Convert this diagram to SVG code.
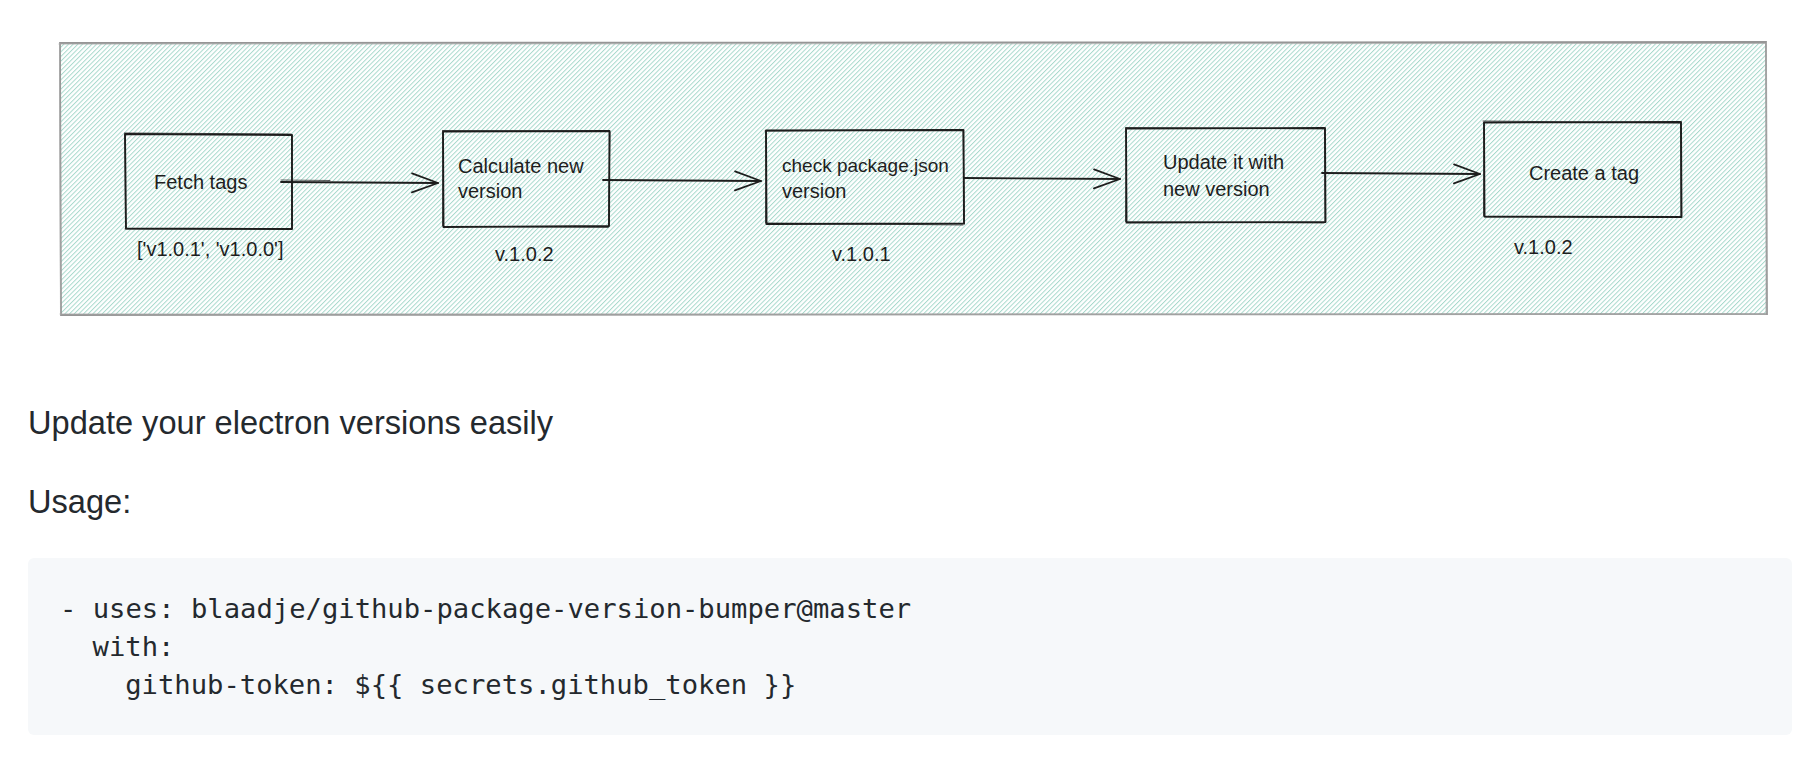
<svg xmlns="http://www.w3.org/2000/svg" width="1820" height="766" viewBox="0 0 1820 766">
<style>
.hand{font-family:"Liberation Sans","DejaVu Sans",sans-serif;font-size:20px;fill:#1e1e1e}
.sm{font-size:19px}
.box{fill:none;stroke:#1e1e1e;stroke-width:1.9;stroke-linejoin:round;stroke-linecap:round}
.box2{fill:none;stroke:#1e1e1e;stroke-width:1;stroke-linecap:round;opacity:0.75}
.cont{fill:none;stroke:#969696;stroke-width:1.8;stroke-linecap:round}
.cont2{fill:none;stroke:#a8a8a8;stroke-width:1;stroke-linecap:round;opacity:0.8}
.conn{fill:none;stroke:#1e1e1e;stroke-width:1.8;stroke-linecap:round}
.conn2{fill:none;stroke:#1e1e1e;stroke-width:1;stroke-linecap:round;opacity:0.7}
.body{font-family:"Liberation Sans","Helvetica",Arial,sans-serif;font-size:32.6px;fill:#24292e}
.code{font-family:"DejaVu Sans Mono","Liberation Mono",monospace;font-size:27.2px;fill:#24292e}
</style>
<defs>
<pattern id="hatch" width="3.3" height="3.3" patternUnits="userSpaceOnUse" patternTransform="rotate(45)">
<line x1="0.5" y1="0" x2="0.5" y2="3.3" stroke="#a8d9cc" stroke-width="1"/>
</pattern>
<marker id="arrow" markerUnits="userSpaceOnUse" viewBox="-30 -12 32 24" refX="0" refY="0" markerWidth="32" markerHeight="24" orient="auto">
<path d="M-26,-9.5 L0,0 L-26,9.5" fill="none" stroke="#1e1e1e" stroke-width="1.8" stroke-linecap="round" stroke-linejoin="round"/>
</marker>
</defs>
<rect width="1820" height="766" fill="#ffffff"/>

<g id="container">
<rect x="60" y="43" width="1706" height="271" fill="url(#hatch)"/>
<path class="cont" d="M60,43 L1766,42 L1767,314 L61,315 Z"/>
<path class="cont2" d="M59,44 L1765,43.5 M1766.5,42 L1766,313 M1766,314.5 L60,314 M60.5,315 L59.5,43"/>
</g>

<g id="connectors">
<path class="conn" d="M281,182 L438,183" marker-end="url(#arrow)"/>
<path class="conn2" d="M281,180 L330,180.5"/>
<path class="conn" d="M603,180 L761,181" marker-end="url(#arrow)"/>
<path class="conn" d="M964,178 L1120,179" marker-end="url(#arrow)"/>
<path class="conn" d="M1322,173 L1480,174" marker-end="url(#arrow)"/>
</g>

<g id="node-fetch">
<path class="box" d="M125,134 L292,135 L292,229 L126,228.5 Z"/>
<path class="box2" d="M124.5,133 L291,134 M291.5,135 L292.5,228 M291,229.5 L125,229 M125.5,228 L125,135"/>
<text class="hand" x="154" y="189">Fetch tags</text>
<text class="hand" x="137" y="256">['v1.0.1', 'v1.0.0']</text>
</g>

<g id="node-calc">
<path class="box" d="M443,131.5 L609.5,131 L609,226 L443.5,227 Z"/>
<path class="box2" d="M442.5,130.5 L608.5,131.5 M610,132 L608.5,227 M608,227.5 L444,226.5 M442.5,226 L443,132"/>
<text class="hand" x="458" y="173">Calculate new</text>
<text class="hand" x="458" y="198">version</text>
<text class="hand" x="495" y="261">v.1.0.2</text>
</g>

<g id="node-check">
<path class="box" d="M766,130.5 L963.5,130 L964,223.5 L766.5,224 Z"/>
<path class="box2" d="M765,131 L962,129.5 M963,131 L964.5,224 M963,225 L767,223 M765.5,223 L766,131.5"/>
<text class="hand sm" x="782" y="172">check package.json</text>
<text class="hand" x="782" y="198">version</text>
<text class="hand" x="832" y="261">v.1.0.1</text>
</g>

<g id="node-update">
<path class="box" d="M1126,128.5 L1325,128 L1325.5,222 L1126.5,222.5 Z"/>
<path class="box2" d="M1125.5,127.5 L1324,129 M1324.5,128.5 L1325,221 M1324,223 L1127,222 M1125.5,221.5 L1126.5,129"/>
<text class="hand" x="1163" y="169">Update it with</text>
<text class="hand" x="1163" y="196">new version</text>
</g>

<g id="node-tag">
<path class="box" d="M1484,122.5 L1681,122 L1681.5,217 L1484.5,216.5 Z"/>
<path class="box2" d="M1483,121 L1680,123 M1680.5,121.5 L1681,216 M1680,217.5 L1485,217 M1483.5,216 L1484,123"/>
<text class="hand" x="1584" y="180" text-anchor="middle">Create a tag</text>
<text class="hand" x="1514" y="254">v.1.0.2</text>
</g>

<g id="readme">
<text class="body" x="28" y="434">Update your electron versions easily</text>
<text class="body" x="28" y="513">Usage:</text>
<rect x="28" y="558" width="1764" height="177" rx="6" fill="#f6f8fa"/>
<text class="code" x="60" y="618">- uses: blaadje/github-package-version-bumper@master</text>
<text class="code" x="92.6" y="656">with:</text>
<text class="code" x="125.2" y="694">github-token: ${{ secrets.github_token }}</text>
</g>
</svg>
